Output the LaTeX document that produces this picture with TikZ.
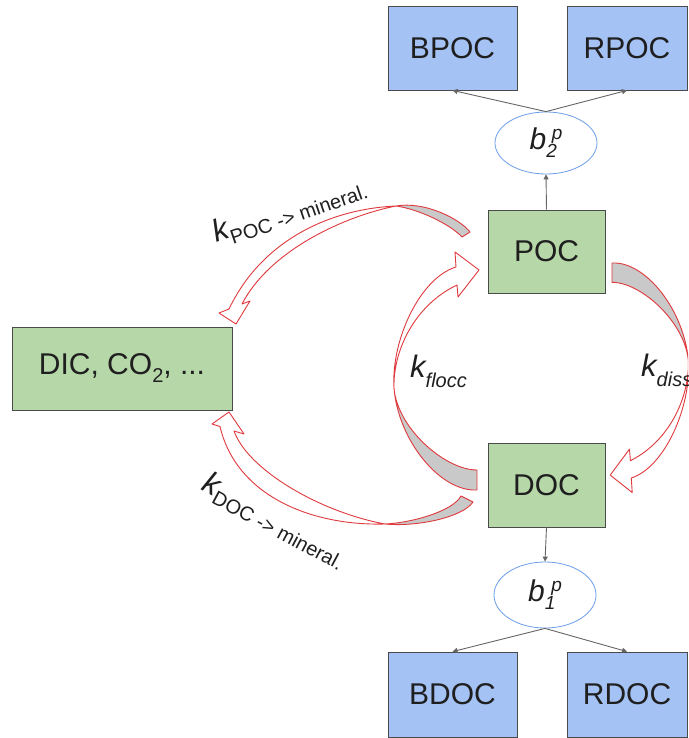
\documentclass[tikz,border=0pt]{standalone}
\usepackage{fontspec}
\setmainfont{Liberation Sans}
\usetikzlibrary{arrows.meta,shapes.geometric}
\definecolor{gbox}{HTML}{B6D7A8}
\definecolor{bbox}{HTML}{A4C2F4}
\definecolor{bord}{HTML}{4A4A4A}
\definecolor{ellc}{HTML}{6D9EEB}
\definecolor{connc}{HTML}{666666}
\definecolor{rline}{HTML}{E0393E}
\definecolor{gfill}{HTML}{C9C9C9}
\definecolor{txt}{HTML}{1F1F1F}
\tikzset{
  greenbox/.style={draw=bord, fill=gbox, line width=0.8pt, inner sep=0pt, text=txt, font=\fontsize{30}{30}\selectfont},
  bluebox/.style={draw=bord, fill=bbox, line width=0.8pt, inner sep=0pt, text=txt, font=\fontsize{30}{30}\selectfont},
  ellbox/.style={ellipse, draw=ellc, fill=white, line width=0.8pt, inner sep=0pt, minimum width=102pt, text=txt},
  conn/.style={draw=connc, line width=0.9pt, -{Triangle[length=5pt,width=5pt]}},
  garrow/.style={draw=rline, fill=gfill, line width=0.9pt, line join=round},
  warrow/.style={draw=rline, fill=white, line width=0.9pt, line join=round},
  lab/.style={inner sep=0pt, anchor=base west, text=txt}
}
\newcommand{\kbig}{\fontsize{31}{31}\selectfont\itshape}
\newcommand{\ksub}{\fontsize{20}{20}\selectfont}
\newcommand{\bsub}{\fontsize{19}{19}\selectfont}
\begin{document}
\begin{tikzpicture}[x=1pt,y=-1pt]
\useasboundingbox (0,0) rectangle (688,738);
\clip (0,0) rectangle (688,738);
\fill[white] (0,0) rectangle (688,738);

% boxes
\node[bluebox, minimum width=129pt, minimum height=84pt] (BPOC) at (452.5,48) {BPOC};
\node[bluebox, minimum width=120pt, minimum height=84pt] (RPOC) at (627,48) {RPOC};
\node[greenbox, minimum width=117pt, minimum height=83pt] (POC) at (546.5,251.5) {POC};
\node[greenbox, minimum width=117pt, minimum height=84pt] (DOC) at (546.5,485) {DOC};
\node[bluebox, minimum width=129pt, minimum height=85pt] (BDOC) at (452.5,694.5) {BDOC};
\node[bluebox, minimum width=120pt, minimum height=85pt] (RDOC) at (627,694.5) {RDOC};
\node[greenbox, minimum width=220pt, minimum height=83pt] (DIC) at (122,368.5) {DIC, CO\raisebox{-8pt}{\ksub 2}, ...};

% ellipses
\node[ellbox, minimum height=62pt] (b2) at (546,143) {\fontsize{30}{30}\selectfont\itshape b\raisebox{-8pt}{\bsub 2}\hspace{-5pt}\raisebox{10pt}{\bsub p}};
\node[ellbox, minimum height=66pt] (b1) at (545,595) {\fontsize{30}{30}\selectfont\itshape b\raisebox{-8pt}{\bsub 1}\hspace{-4pt}\raisebox{10pt}{\bsub p}};

% connectors
\draw[conn] (POC.north) -- (b2.south);
\draw[conn] (b2.north) -- (BPOC.south);
\draw[conn] (b2.north) -- (RPOC.south);
\draw[conn] (DOC.south) -- (b1.north);
\draw[conn] (b1.south) -- (BDOC.north);
\draw[conn] (b1.south) -- (RDOC.north);

% arrow POC -> mineral
\filldraw[garrow] (470,232) .. controls (460,219) and (425,201) .. (396,206) .. controls (418,209) and (450,224) .. (462,237) -- cycle;
\filldraw[warrow] (396,206) .. controls (330,209) and (262,240) .. (229,309) -- (219,313) -- (236,324) -- (250,301) -- (242,304) .. controls (270,250) and (345,216) .. (396,206) -- cycle;

% arrow DOC -> mineral
\filldraw[garrow] (473,502) .. controls (462,518) and (415,527) .. (385,524) .. controls (410,523) and (452,512) .. (461,496) -- cycle;
\filldraw[warrow] (385,524) .. controls (310,526) and (236,495) .. (220,426.5) -- (212,424) -- (229,412) -- (244,434) -- (234,431) .. controls (248,470) and (320,512) .. (385,524) -- cycle;

% arrow flocc (DOC -> POC)
\filldraw[garrow] (477,490) .. controls (440,492) and (398,440) .. (394,388) .. controls (397,428) and (445,470) .. (477,470) -- cycle;
\filldraw[warrow] (394,388) .. controls (391,340) and (420,278) .. (456,267) -- (455,252) -- (479,270) -- (458,297) -- (457,285) .. controls (415,305) and (393,350) .. (394,388) -- cycle;

% arrow diss (POC -> DOC)
\filldraw[garrow] (612,263) .. controls (646,261.1) and (684.7,311.2) .. (688.4,361.4) .. controls (685.6,322.8) and (641.4,282.3) .. (612,282.3) -- cycle;
\filldraw[warrow] (688.4,361.4) .. controls (691.1,407.6) and (664.4,467.4) .. (631.3,478) -- (632.2,492.5) -- (610.2,475.1) -- (629.5,449.1) -- (630.4,460.7) .. controls (669,441.4) and (689.3,398) .. (688.4,361.4) -- cycle;

% labels
\node[lab, rotate=19] (lpoc) at (216,243) {{\kbig k}\raisebox{-7pt}{\ksub POC -> mineral.}};
\node[lab, rotate=-28] (ldoc) at (200,489) {{\kbig k}\raisebox{-7pt}{\ksub DOC -> mineral.}};
\node[lab] (lfl) at (410,377) {{\kbig k}\raisebox{-10pt}{\ksub\itshape flocc}};
\node[lab] (ldi) at (641,376) {{\kbig k}\raisebox{-10pt}{\ksub\itshape diss}};
\end{tikzpicture}
\end{document}
